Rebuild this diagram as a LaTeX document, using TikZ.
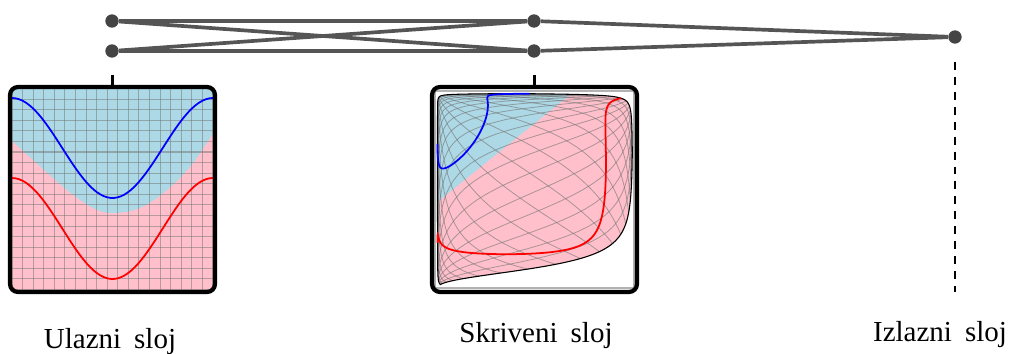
\documentclass[tikz,border=0pt]{standalone}
\usepackage{fontspec}
\setmainfont{Liberation Serif}

\definecolor{netgray}{RGB}{85,85,85}
\definecolor{dotgray}{RGB}{68,68,68}
\definecolor{lblue}{RGB}{173,216,230}
\definecolor{lpink}{RGB}{255,192,203}

% hidden layer map: tanh(W x + b), scaled into the right panel
\pgfmathdeclarefunction{hx}{2}{\pgfmathparse{535+97.5*tanh(2.75*(#1)-1.8*(#2)-1.15)}}
\pgfmathdeclarefunction{hy}{2}{\pgfmathparse{190.5-97.5*tanh(1.2*(#1)+1.25*(#2)+0.45)}}

\def\hidoutline{plot[domain=-1:1, samples=80, variable=\s] ({hx(\s,-1)},{hy(\s,-1)})
  -- plot[domain=-1:1, samples=80, variable=\s] ({hx(1,\s)},{hy(1,\s)})
  -- plot[domain=1:-1, samples=80, variable=\s] ({hx(\s,1)},{hy(\s,1)})
  -- plot[domain=1:-1, samples=80, variable=\s] ({hx(-1,\s)},{hy(-1,\s)}) -- cycle}

\begin{document}
\begin{tikzpicture}[x=0.02cm, y=-0.02cm,
    neuron/.style={circle, fill=dotgray, inner sep=0pt, minimum size=7.6pt},
    link/.style={draw=netgray, line width=2.1pt},
    panel/.style={draw, line width=2.4pt, rounded corners=4.5pt, minimum width=4.1cm, minimum height=4.1cm, inner sep=0pt},
    panelstem/.style={line width=1.6pt},
    gridline/.style={black!55, opacity=0.5, line width=0.6pt},
    mesh/.style={black!55, opacity=0.6, line width=0.45pt},
    bluecurve/.style={blue, line width=1pt},
    redcurve/.style={red, line width=1pt},
    lbl/.style={anchor=base, font=\fontsize{16.5}{19}\selectfont}
]
    \useasboundingbox (0,0) rectangle (1012,354);

    % network
    \node[neuron] (in1)  at (112,21) {};
    \node[neuron] (in2)  at (112,51) {};
    \node[neuron] (hid1) at (534,21) {};
    \node[neuron] (hid2) at (534,51) {};
    \node[neuron] (out)  at (955,37) {};

    \draw[link] (in1) -- (hid1);
    \draw[link] (in1) -- (hid2);
    \draw[link] (in2) -- (hid1);
    \draw[link] (in2) -- (hid2);
    \draw[link] (hid1) -- (out);
    \draw[link] (hid2) -- (out);

    % input panel
    \begin{scope}
        \clip[rounded corners=4.5pt] (10,87) rectangle (215,292);
        \fill[lpink] (10,87) rectangle (215,292);
        \fill[lblue] (10,87) -- plot[smooth, tension=0.6] coordinates {(10,139) (33,160) (67,190) (93,208) (113,213) (140,208) (167,190) (193,163) (215,130)} -- (215,87) -- cycle;
        \foreach \k in {0,...,19} {
            \draw[gridline] ({12+10.58*\k},87) -- ({12+10.58*\k},292);
            \draw[gridline] (10,{88.5+10.58*\k}) -- (215,{88.5+10.58*\k});
        }
        \draw[bluecurve] plot[domain=0:1, samples=60, variable=\s] ({12+201*\s},{148-50*cos(360*\s)});
        \draw[redcurve] plot[domain=0:1, samples=60, variable=\s] ({12+201*\s},{228.5-50.5*cos(360*\s)});
    \end{scope}

    % hidden panel
    \draw[gray!60, line width=0.8pt] (435,91) rectangle (634,288);
    \begin{scope}
        \clip \hidoutline;
        \fill[lpink] (430,85) rectangle (640,295);
        \fill[lblue] (430,208) -- (582,85) -- (430,85) -- cycle;
        \foreach \k in {0,...,19} {
            \pgfmathsetmacro\uu{-1+2*\k/19}
            \draw[mesh] plot[domain=-1:1, samples=40, variable=\s] ({hx(\uu,\s)},{hy(\uu,\s)});
            \draw[mesh] plot[domain=-1:1, samples=40, variable=\s] ({hx(\s,\uu)},{hy(\s,\uu)});
        }
    \end{scope}
    \draw[line width=0.6pt] \hidoutline;
    \draw[bluecurve] plot[domain=-1:1, samples=80, variable=\s] ({hx(\s,0.42-0.5*cos(180*\s))},{hy(\s,0.42-0.5*cos(180*\s))});
    \draw[redcurve] plot[domain=-1:1, samples=80, variable=\s] ({hx(\s,-0.385-0.505*cos(180*\s))},{hy(\s,-0.385-0.505*cos(180*\s))});

    \node[panel] (inbox)  at (112.5,189.5) {};
    \node[panel] (hidbox) at (534.5,189.5) {};
    \draw[panelstem] (inbox.north) -- ++(0,-10);
    \draw[panelstem] (hidbox.north) -- ++(0,-10);

    % output column
    \coordinate (outtop) at (955,62);
    \coordinate (outbot) at (955,292);
    \draw[line width=1.7pt, dash pattern=on 4.5pt off 4pt] (outtop) -- (outbot);

    \node[lbl] (inlbl)  at (110,349) {Ulazni\hspace{0.45em}sloj};
    \node[lbl] (hidlbl) at (536,343) {Skriveni\hspace{0.45em}sloj};
    \node[lbl] (outlbl) at (940,342) {Izlazni\hspace{0.45em}sloj};
\end{tikzpicture}
\end{document}
